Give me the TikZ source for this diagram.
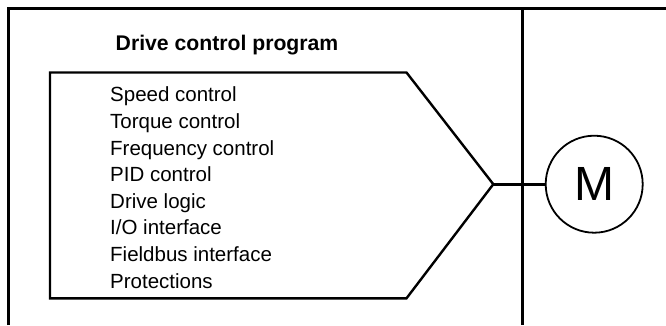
\documentclass[tikz,border=0pt]{standalone}
\usepackage{fontspec}
\setmainfont{Liberation Sans}
\begin{document}
\begin{tikzpicture}[x=1pt,y=-1pt,
  frame/.style={line width=2.7pt},
  blockline/.style={line width=2.4pt, line join=miter},
  item/.style={anchor=base west, inner sep=0pt, font=\fontsize{20.5}{24}\selectfont},
  title/.style={anchor=base west, inner sep=0pt, font=\fontsize{21.2}{25}\selectfont\bfseries},
  motorstyle/.style={circle, draw, line width=1.8pt, minimum size=97pt, inner sep=0pt, font=\fontsize{48}{56}\selectfont}
]
\useasboundingbox (0,0) rectangle (666,325);
% outer frame
\draw[frame] (8.7,325) -- (8.7,8.7) -- (666,8.7);
\draw[frame] (522.2,8.7) -- (522.2,325);
% title
\node[title] (ttl) at (115.5,50.7) {Drive control program};
% program block
\draw[blockline] (406.5,72.5) -- (50,72.5) -- (50,298.3) -- (406.5,298.3) -- (493.3,184.2) -- cycle;
\coordinate (tip) at (493.3,184.2);
% items
\node[item] (l1) at (110,101.7) {Speed control};
\node[item] (l2) at (110,128.35) {Torque control};
\node[item] (l3) at (110,155.0) {Frequency control};
\node[item] (l4) at (110,181.65) {PID control};
\node[item] (l5) at (110,208.3) {Drive logic};
\node[item] (l6) at (110,234.95) {I/O interface};
\node[item] (l7) at (110,261.6) {Fieldbus interface};
\node[item] (l8) at (110,288.25) {Protections};
% motor
\node[motorstyle] (motor) at (594.2,184.2) {M};
\draw[line width=2.8pt] (tip) -- (motor.west);
\end{tikzpicture}
\end{document}
